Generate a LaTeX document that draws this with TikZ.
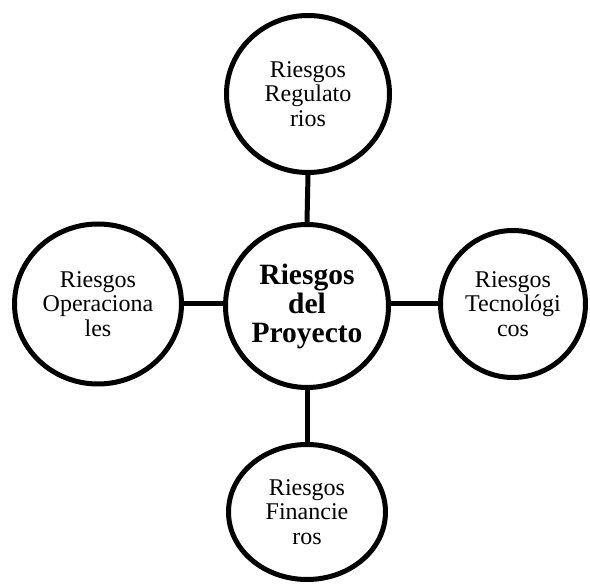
\documentclass[tikz,border=0pt]{standalone}
\usepackage{fontspec}
\setmainfont{Liberation Serif}
\usetikzlibrary{shapes.geometric}
\tikzset{
  riskbox/.style={draw=black, line width=5pt, ellipse, inner sep=0pt, align=center,
    font=\fontsize{24}{24.5}\selectfont},
  corebox/.style={riskbox, font=\fontsize{29.5}{29}\selectfont\bfseries},
  link/.style={draw=black, line width=5pt}
}
\begin{document}
\begin{tikzpicture}[x=1pt,y=-1pt]
\useasboundingbox (0,0) rectangle (590,585);
\node[corebox, minimum width=163pt, minimum height=163pt] (core) at (307,306) {Riesgos\\del\\Proyecto};
\node[riskbox, minimum width=163pt, minimum height=157pt] (reg) at (308,94) {Riesgos\\Regulato\\rios};
\node[riskbox, minimum width=167pt, minimum height=160pt] (ope) at (98,304) {Riesgos\\Operaciona\\les};
\node[riskbox, minimum width=145pt, minimum height=147pt] (tec) at (513,304) {Riesgos\\Tecnológi\\cos};
\node[riskbox, minimum width=157pt, minimum height=135pt] (fin) at (307,512) {Riesgos\\Financie\\ros};
\draw[link] (reg.south) -- (core.north);
\draw[link] (core.south) -- (fin.north);
\draw[link] (ope.east) -- (ope.east -| core.west);
\draw[link] (tec.west) -- (tec.west -| core.east);
\end{tikzpicture}
\end{document}
